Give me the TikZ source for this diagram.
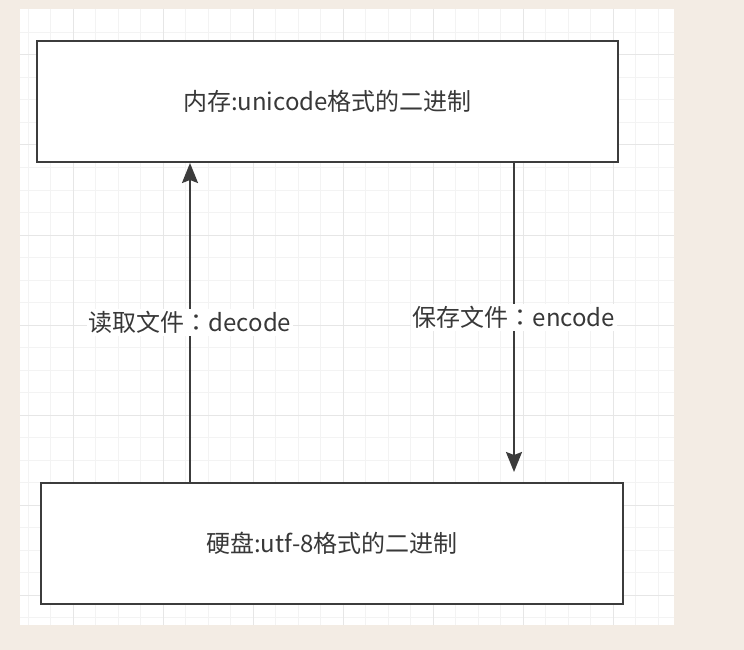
\documentclass[tikz,border=0pt]{standalone}
\usepackage{fontspec}
\newfontfamily\cjk{Noto Sans CJK SC}
\newfontfamily\cjkpunct{Noto Sans CJK TC}
\usetikzlibrary{arrows.meta}
\definecolor{pagebg}{HTML}{F3ECE4}
\definecolor{minorgrid}{HTML}{F3F3F3}
\definecolor{majorgrid}{HTML}{E6E6E6}
\definecolor{inkgray}{HTML}{3C3C3C}
\definecolor{textgray}{HTML}{383838}

\begin{document}
\begin{tikzpicture}[x=1pt, y=-1pt,
    every node/.style={font=\cjk\fontsize{24}{28}\selectfont, text=textgray},
    box/.style={draw=inkgray, line width=2pt, fill=white, inner sep=0pt},
    arr/.style={draw=inkgray, line width=2pt, -{Stealth[length=20pt, width=16pt, inset=3pt]}},
    lbl/.style={fill=white, inner sep=2pt}]
% Page and canvas
\fill[pagebg] (0,0) rectangle (744,650);
\useasboundingbox (0,0) rectangle (744,650);
\fill[white] (20,9) rectangle (674,625);

% Background grid
\foreach \i in {-2,...,26} {
    \draw[minorgrid, line width=1pt] ({73+22.5*\i},9) -- ({73+22.5*\i},625);
}
\foreach \i in {-1,...,25} {
    \draw[minorgrid, line width=1pt] (20,{55+22.5*\i}) -- (674,{55+22.5*\i});
}
\foreach \i in {0,...,6} {
    \draw[majorgrid, line width=1pt] ({73+90*\i},9) -- ({73+90*\i},625);
    \draw[majorgrid, line width=1pt] (20,{55+90*\i}) -- (674,{55+90*\i});
}

% Memory and disk
\node[box, minimum width=581pt, minimum height=121pt] (mem) at (327.5,101.5) {内存:unicode格式的二进制};
\node[box, minimum width=582pt, minimum height=121pt] (disk) at (332,543.5) {硬盘:utf-8格式的二进制};

% Read and save
\draw[arr] ([xshift=150pt]disk.north west) -- ([xshift=154pt]mem.south west)
    node[lbl, midway] (readlbl) {读取文件{\cjkpunct ：}decode};
\draw[arr] ([xshift=478pt]mem.south west) -- ([xshift=474pt, yshift=10pt]disk.north west)
    node[lbl, midway] (savelbl) {保存文件{\cjkpunct ：}encode};

\end{tikzpicture}
\end{document}
